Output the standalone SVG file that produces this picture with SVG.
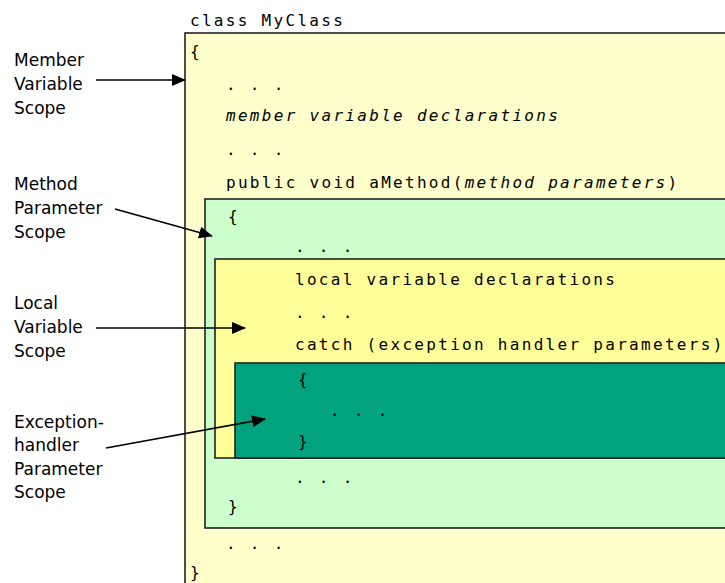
<svg xmlns="http://www.w3.org/2000/svg" width="725" height="583" viewBox="0 0 725 583">
<defs>
<style>
.box{stroke:#222;stroke-width:1.6}
.code{font-family:"DejaVu Sans Mono","Liberation Mono",monospace;font-size:16px;letter-spacing:2.3px;fill:#000}
.it{font-style:italic}
.lbl{font-family:"DejaVu Sans","Liberation Sans",sans-serif;font-size:17px;fill:#000}
.con{stroke:#000;stroke-width:1.6;fill:none}
</style>
<marker id="ah" markerWidth="14" markerHeight="12" refX="13" refY="6" orient="auto" markerUnits="userSpaceOnUse">
<path d="M0,0 L14,6 L0,12 Z" fill="#000"/>
</marker>
</defs>
<rect width="725" height="583" fill="#fff"/>
<g id="member-scope">
<rect class="box" x="185" y="33" width="560" height="570" fill="#FFFFCC"/>
<text class="code" x="190" y="26">class MyClass</text>
<text class="code" x="190" y="57">{</text>
<text class="code" x="226" y="90">. . .</text>
<text class="code it" x="226" y="121">member variable declarations</text>
<text class="code" x="226" y="155">. . .</text>
<text class="code" x="226" y="188">public void aMethod(<tspan class="it">method parameters</tspan>)</text>
<text class="code" x="226" y="549">. . .</text>
<text class="code" x="190" y="578">}</text>
</g>
<g id="method-scope">
<rect class="box" x="205" y="199" width="540" height="329" fill="#CCFFCC"/>
<text class="code" x="228" y="222">{</text>
<text class="code" x="295" y="252">. . .</text>
<text class="code" x="295" y="483">. . .</text>
<text class="code" x="228" y="512">}</text>
</g>
<g id="local-scope">
<rect class="box" x="215" y="259" width="530" height="199" fill="#FFFF99"/>
<text class="code" x="295" y="285">local variable declarations</text>
<text class="code" x="295" y="318">. . .</text>
<text class="code" x="295" y="350">catch (exception handler parameters)</text>
</g>
<g id="exception-scope">
<rect class="box" x="235" y="363" width="510" height="95" fill="#00A37D"/>
<text class="code" x="298" y="385">{</text>
<text class="code" x="330" y="416">. . .</text>
<text class="code" x="298" y="447">}</text>
</g>
<g id="labels">
<text class="lbl" x="14" y="66">Member</text>
<text class="lbl" x="14" y="90">Variable</text>
<text class="lbl" x="14" y="114">Scope</text>
<text class="lbl" x="14" y="190">Method</text>
<text class="lbl" x="14" y="214">Parameter</text>
<text class="lbl" x="14" y="238">Scope</text>
<text class="lbl" x="14" y="309">Local</text>
<text class="lbl" x="14" y="333">Variable</text>
<text class="lbl" x="14" y="357">Scope</text>
<text class="lbl" x="14" y="428">Exception-</text>
<text class="lbl" x="14" y="451">handler</text>
<text class="lbl" x="14" y="475">Parameter</text>
<text class="lbl" x="14" y="498">Scope</text>
</g>
<g id="connectors">
<line class="con" x1="96" y1="80" x2="185" y2="80" marker-end="url(#ah)"/>
<line class="con" x1="115" y1="209" x2="212" y2="236" marker-end="url(#ah)"/>
<line class="con" x1="96" y1="328" x2="245" y2="328" marker-end="url(#ah)"/>
<line class="con" x1="106" y1="448" x2="265" y2="419" marker-end="url(#ah)"/>
</g>
</svg>
